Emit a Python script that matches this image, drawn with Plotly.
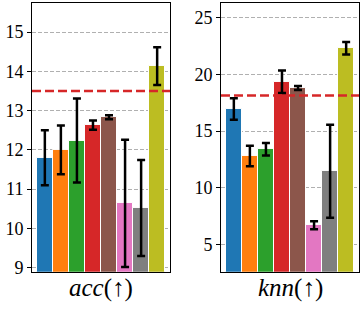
import plotly.graph_objects as go

methods = ["m1", "m2", "m3", "m4", "m5", "m6", "m7", "m8"]
colors = ["#1f77b4", "#ff7f0e", "#2ca02c", "#d62728", "#8c564b", "#e377c2", "#7f7f7f", "#bcbd22"]

acc_vals = [11.8, 12.0, 12.24, 12.63, 12.83, 10.64, 10.52, 14.13]
acc_err = [0.70, 0.62, 1.07, 0.12, 0.05, 1.62, 1.22, 0.48]
acc_ref = 13.5

knn_vals = [16.95, 12.8, 13.4, 19.35, 18.8, 6.7, 11.45, 22.3]
knn_err = [0.95, 0.9, 0.55, 1.0, 0.18, 0.35, 4.1, 0.55]
knn_ref = 18.13

acc_ticks = [9, 10, 11, 12, 13, 14, 15]
knn_ticks = [5, 10, 15, 20, 25]

W, H = 362, 311
FONT = "Liberation Serif"

fig = go.Figure()
xs = list(range(len(methods)))
for vals, errs, xa, ya in [(acc_vals, acc_err, "x", "y"), (knn_vals, knn_err, "x2", "y2")]:
    fig.add_trace(go.Bar(
        x=xs, y=vals, width=1.0,
        marker=dict(color=colors, line=dict(color="white", width=1)),
        error_y=dict(type="data", array=errs, color="black", thickness=2.5, width=4),
        xaxis=xa, yaxis=ya, showlegend=False,
    ))

def xd(a, b):
    return [a / W, b / W]

def yd(top, bot):
    return [1 - bot / H, 1 - top / H]

common_x = dict(showticklabels=False, ticks="", showgrid=False, zeroline=False,
                showline=True, mirror=True, linecolor="black", linewidth=1,
                range=[-0.8, 7.8])
common_y = dict(showline=True, mirror=True, linecolor="black", linewidth=1,
                ticks="outside", ticklen=4, tickcolor="black", zeroline=False,
                showgrid=True, gridcolor="#b0b0b0", griddash="4px,2px", gridwidth=1,
                tickfont=dict(family=FONT, size=18, color="black"))

label_y = 1 - 294 / H

fig.update_layout(
    width=W, height=H,
    margin=dict(l=0, r=0, t=0, b=0),
    paper_bgcolor="white", plot_bgcolor="white",
    bargap=0,
    xaxis=dict(domain=xd(32, 170), anchor="y", **common_x),
    xaxis2=dict(domain=xd(221, 359), anchor="y2", **common_x),
    yaxis=dict(domain=yd(3, 277), anchor="x", range=[8.9, 15.74],
               tickvals=acc_ticks, **common_y),
    yaxis2=dict(domain=yd(3, 277), anchor="x2", range=[2.6, 26.3],
                tickvals=knn_ticks, **common_y),
    shapes=[
        dict(type="line", xref="x domain", yref="y", x0=0, x1=1, y0=acc_ref, y1=acc_ref,
             line=dict(color="#d62728", width=2.5, dash="9px,4px")),
        dict(type="line", xref="x2 domain", yref="y2", x0=0, x1=1, y0=knn_ref, y1=knn_ref,
             line=dict(color="#d62728", width=2.5, dash="9px,4px")),
    ],
    annotations=[
        dict(text="<i>acc</i>(↑)", xref="x domain", yref="paper", x=0.5, y=label_y,
             showarrow=False, font=dict(family=FONT, size=25, color="black"),
             xanchor="center", yanchor="middle"),
        dict(text="<i>knn</i>(↑)", xref="x2 domain", yref="paper", x=0.5, y=label_y,
             showarrow=False, font=dict(family=FONT, size=25, color="black"),
             xanchor="center", yanchor="middle"),
    ],
)

fig.write_html("out.html", config={"displayModeBar": False},
               post_script="document.body.style.margin='0px';document.body.style.overflow='hidden';")
